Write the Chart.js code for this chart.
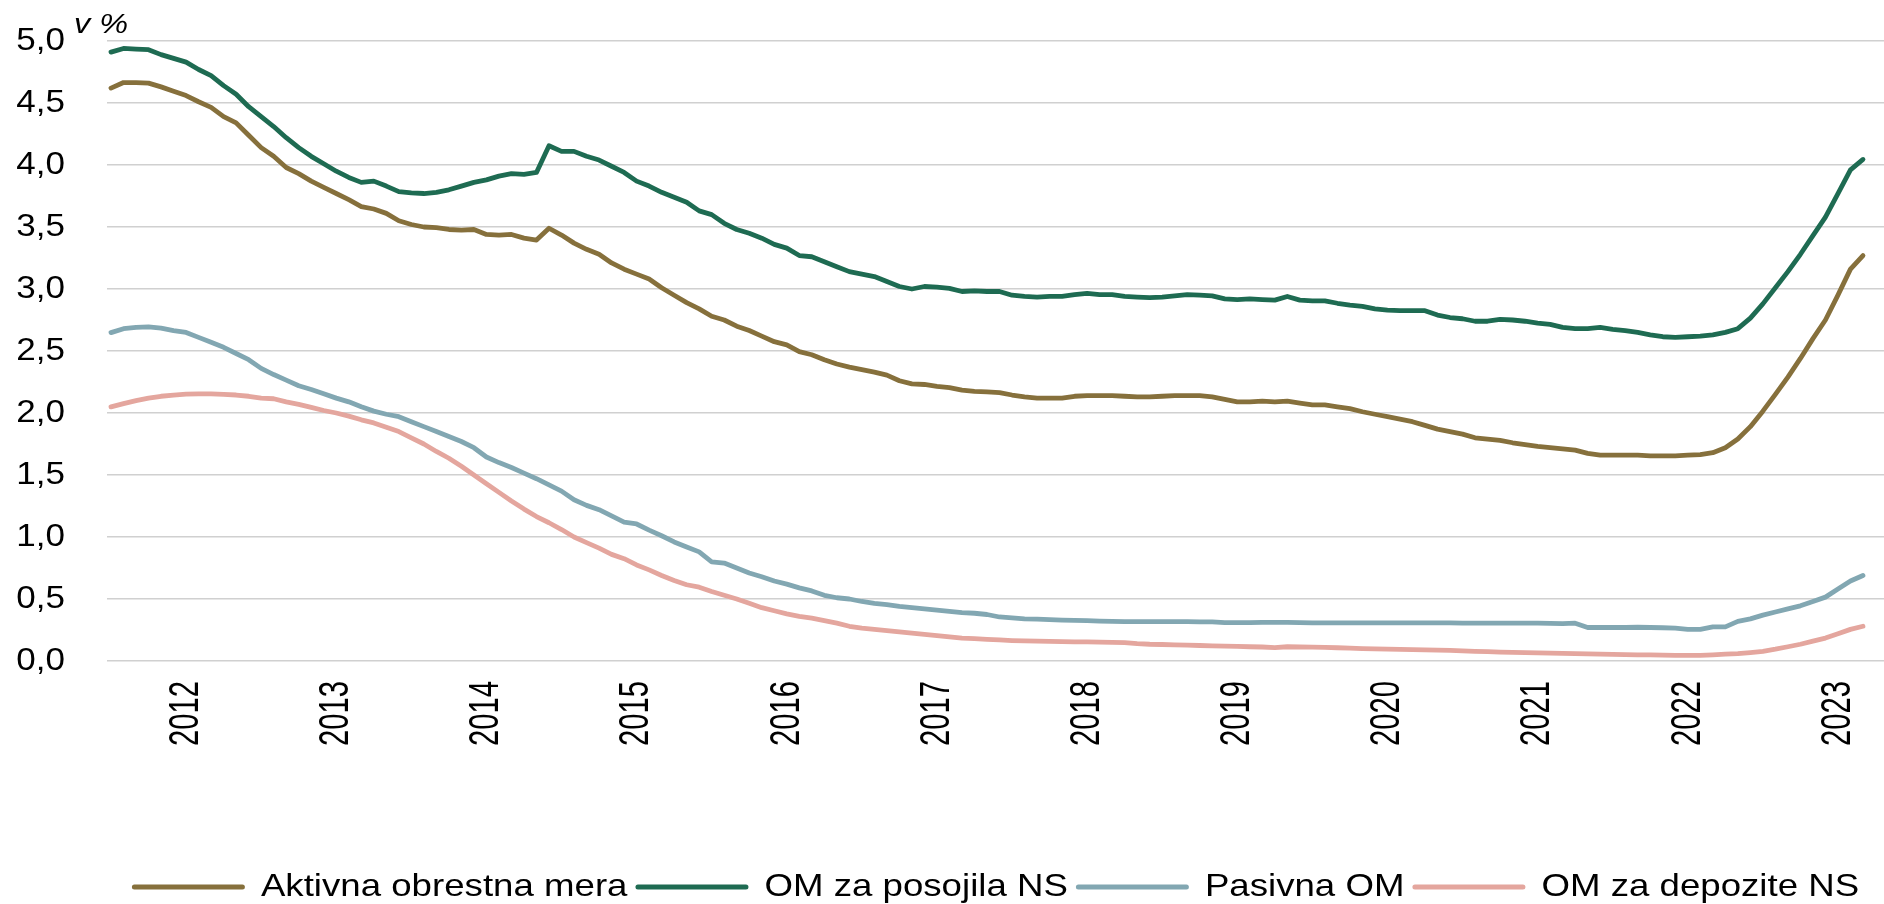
<!DOCTYPE html>
<html>
<head>
<meta charset="utf-8">
<script src="https://cdn.jsdelivr.net/npm/chart.js@4.4.0/dist/chart.umd.min.js"></script>
<style>
  html, body { margin: 0; padding: 0; background: #fff; overflow: hidden; }
  body { width: 1884px; height: 904px; }
  #wrap { position: relative; width: 1884px; height: 913px; }
</style>
</head>
<body>
<div id="wrap"><canvas id="chart"></canvas></div>
<script>
// year tick labels, one per 12 months (placed mid-year)
var years = ["2012", "2013", "2014", "2015", "2016", "2017", "2018", "2019", "2020", "2021", "2022", "2023"]

// monthly rates in %, Jan 2012 - Sep 2023
var aktivna = [
  4.62, 4.665, 4.665, 4.66, 4.63, 4.595, 4.56, 4.51, 4.465, 4.39, 4.34, 4.24,
  4.14, 4.07, 3.98, 3.93, 3.87, 3.82, 3.77, 3.72, 3.665, 3.645, 3.61, 3.55,
  3.52, 3.50, 3.495, 3.48, 3.475, 3.48, 3.44, 3.435, 3.44, 3.41, 3.395, 3.49,
  3.435, 3.37, 3.32, 3.28, 3.21, 3.16, 3.12, 3.08, 3.01, 2.95, 2.89, 2.84,
  2.78, 2.75, 2.70, 2.665, 2.62, 2.575, 2.55, 2.495, 2.47, 2.43, 2.395, 2.37,
  2.35, 2.33, 2.305, 2.26, 2.235, 2.23, 2.215, 2.205, 2.185, 2.175, 2.17, 2.165,
  2.145, 2.13, 2.12, 2.12, 2.12, 2.135, 2.14, 2.14, 2.14, 2.135, 2.13, 2.13,
  2.135, 2.14, 2.14, 2.14, 2.13, 2.11, 2.09, 2.09, 2.095, 2.09, 2.095, 2.08,
  2.065, 2.065, 2.05, 2.035, 2.01, 1.99, 1.97, 1.95, 1.93, 1.90, 1.87, 1.85,
  1.83, 1.80, 1.79, 1.78, 1.76, 1.745, 1.73, 1.72, 1.71, 1.70, 1.675, 1.66,
  1.66, 1.66, 1.66, 1.655, 1.655, 1.655, 1.66, 1.665, 1.68, 1.72, 1.79, 1.89,
  2.015, 2.15, 2.29, 2.44, 2.60, 2.75, 2.95, 3.16, 3.27
]
var posojilaNS = [
  4.91, 4.94, 4.935, 4.93, 4.89, 4.86, 4.83, 4.77, 4.72, 4.64, 4.57, 4.47,
  4.39, 4.31, 4.22, 4.14, 4.07, 4.01, 3.95, 3.90, 3.86, 3.87, 3.83, 3.785,
  3.775, 3.77, 3.78, 3.80, 3.83, 3.86, 3.88, 3.91, 3.93, 3.925, 3.94, 4.155,
  4.11, 4.11, 4.07, 4.04, 3.99, 3.94, 3.87, 3.83, 3.78, 3.74, 3.70, 3.63,
  3.60, 3.53, 3.48, 3.45, 3.41, 3.36, 3.33, 3.27, 3.26, 3.22, 3.18, 3.14,
  3.12, 3.10, 3.06, 3.02, 3.00, 3.02, 3.015, 3.005, 2.98, 2.985, 2.98, 2.98,
  2.95, 2.94, 2.935, 2.94, 2.94, 2.955, 2.965, 2.955, 2.955, 2.94, 2.935, 2.93,
  2.935, 2.945, 2.955, 2.95, 2.945, 2.92, 2.915, 2.92, 2.915, 2.91, 2.94, 2.91,
  2.905, 2.905, 2.885, 2.87, 2.86, 2.84, 2.83, 2.825, 2.825, 2.825, 2.79, 2.77,
  2.76, 2.74, 2.74, 2.755, 2.75, 2.74, 2.725, 2.715, 2.69, 2.68, 2.68, 2.69,
  2.675, 2.665, 2.65, 2.63, 2.615, 2.61, 2.615, 2.62, 2.63, 2.65, 2.68, 2.765,
  2.88, 3.01, 3.14, 3.28, 3.43, 3.58, 3.77, 3.96, 4.045
]
var pasivna = [
  2.648, 2.68, 2.69, 2.695, 2.685, 2.665, 2.65, 2.61, 2.57, 2.53, 2.48, 2.43,
  2.36, 2.31, 2.265, 2.22, 2.19, 2.155, 2.12, 2.09, 2.05, 2.015, 1.99, 1.97,
  1.93, 1.89, 1.85, 1.81, 1.77, 1.72, 1.645, 1.60, 1.56, 1.515, 1.47, 1.42,
  1.37, 1.30, 1.255, 1.22, 1.17, 1.12, 1.105, 1.055, 1.01, 0.96, 0.92, 0.88,
  0.80, 0.79, 0.75, 0.71, 0.68, 0.645, 0.62, 0.59, 0.565, 0.53, 0.51, 0.50,
  0.48, 0.465, 0.455, 0.44, 0.43, 0.42, 0.41, 0.40, 0.39, 0.385, 0.375, 0.355,
  0.348, 0.34, 0.338, 0.333, 0.33, 0.328, 0.325, 0.322, 0.32, 0.318, 0.318, 0.317,
  0.317, 0.317, 0.317, 0.316, 0.315, 0.31, 0.31, 0.31, 0.312, 0.312, 0.312, 0.31,
  0.308, 0.308, 0.308, 0.308, 0.308, 0.308, 0.308, 0.308, 0.308, 0.308, 0.308, 0.308,
  0.305, 0.305, 0.305, 0.305, 0.305, 0.305, 0.305, 0.303, 0.302, 0.305, 0.27, 0.27,
  0.27, 0.27, 0.272, 0.27, 0.268, 0.265, 0.255, 0.255, 0.275, 0.275, 0.32, 0.34,
  0.37, 0.395, 0.42, 0.445, 0.48, 0.515, 0.58, 0.645, 0.69
]
var depozitiNS = [
  2.05, 2.075, 2.10, 2.12, 2.135, 2.145, 2.152, 2.155, 2.155, 2.15, 2.145, 2.135,
  2.12, 2.115, 2.09, 2.07, 2.045, 2.02, 2.00, 1.975, 1.945, 1.92, 1.885, 1.85,
  1.80, 1.75, 1.69, 1.635, 1.57, 1.50, 1.43, 1.36, 1.29, 1.225, 1.165, 1.115,
  1.06, 1.00, 0.955, 0.91, 0.86, 0.825, 0.775, 0.735, 0.69, 0.65, 0.615, 0.595,
  0.56, 0.53, 0.50, 0.465, 0.43, 0.405, 0.38, 0.36, 0.345, 0.325, 0.305, 0.28,
  0.265, 0.255, 0.245, 0.235, 0.225, 0.215, 0.205, 0.195, 0.185, 0.18, 0.175, 0.17,
  0.165, 0.162, 0.16, 0.158, 0.157, 0.155, 0.155, 0.153, 0.15, 0.148, 0.14, 0.135,
  0.133, 0.13, 0.128, 0.125, 0.122, 0.12, 0.118, 0.115, 0.113, 0.108, 0.115, 0.113,
  0.112, 0.11, 0.107, 0.104, 0.10, 0.098, 0.095, 0.093, 0.091, 0.09, 0.088, 0.085,
  0.082, 0.078, 0.075, 0.072, 0.07, 0.068, 0.066, 0.064, 0.062, 0.06, 0.058, 0.056,
  0.054, 0.052, 0.05, 0.05, 0.048, 0.046, 0.045, 0.046, 0.05, 0.055, 0.06, 0.068,
  0.078, 0.095, 0.115, 0.135, 0.16, 0.185, 0.22, 0.255, 0.28
]

var seriesNames = ["Aktivna obrestna mera", "OM za posojila NS", "Pasivna OM", "OM za depozite NS"]
var seriesColors = ["#86703c", "#1e6b52", "#82a7b2", "#e4a69e"]

function toPoints(arr) {
    return arr.map(function(v, i) { return {x: i, y: v} })
}

var fontMain = "'Liberation Sans', Arial, sans-serif"

// the original was exported slightly stretched: widen normal text,
// squeeze the rotated year labels (keyed by font size in px)
var textStretch = {28: 1.16, 31: 1.13, 32: 1.145, 43: 0.68}

var canvas = document.getElementById("chart")
var ctx = canvas.getContext("2d")
var origFill = ctx.fillText.bind(ctx)
var origMeasure = ctx.measureText.bind(ctx)
function stretchFor() {
    var m = /(\d+(?:\.\d+)?)px/.exec(ctx.font)
    return (m && textStretch[m[1]]) || 1
}
ctx.fillText = function(text, x, y) {
    var sx = stretchFor()
    if (sx === 1) return origFill(text, x, y)
    ctx.save()
    ctx.translate(x, y)
    ctx.scale(sx, 1)
    origFill(text, 0, 0)
    ctx.restore()
}
ctx.measureText = function(text) {
    var m = origMeasure(text), sx = stretchFor()
    if (sx === 1) return m
    return {
        width: m.width * sx,
        actualBoundingBoxAscent: m.actualBoundingBoxAscent,
        actualBoundingBoxDescent: m.actualBoundingBoxDescent,
        actualBoundingBoxLeft: m.actualBoundingBoxLeft * sx,
        actualBoundingBoxRight: m.actualBoundingBoxRight * sx
    }
}

// "v %" unit note above the y axis; legend centred on the plot area
var unitLabel = {
    id: "unitLabel",
    afterLayout: function(chart) {
        if (chart.legend) chart.legend.left = chart.chartArea.left
    },
    afterDraw: function(chart) {
        var c = chart.ctx, area = chart.chartArea
        c.save()
        c.font = "italic 28px " + fontMain
        c.fillStyle = "#000"
        c.textAlign = "left"
        c.textBaseline = "alphabetic"
        c.fillText("v %", area.left - 33, area.top - 8)
        c.restore()
    }
}

var datasets = [aktivna, posojilaNS, pasivna, depozitiNS].map(function(arr, k) {
    return {
        label: seriesNames[k],
        data: toPoints(arr),
        borderColor: seriesColors[k],
        backgroundColor: seriesColors[k],
        borderWidth: 4.8,
        pointRadius: 0,
        tension: 0,
        borderCapStyle: "round",
        borderJoinStyle: "round"
    }
})

new Chart(canvas, {
    type: "line",
    data: {datasets: datasets},
    options: {
        responsive: true,
        maintainAspectRatio: false,
        animation: false,
        devicePixelRatio: 1,
        layout: {padding: {left: 0, right: 0, top: 41, bottom: 0}},
        plugins: {
            tooltip: {enabled: false},
            legend: {
                position: "bottom",
                labels: {
                    color: "#000",
                    font: {family: fontMain, size: 32},
                    boxWidth: 113,
                    boxHeight: 5,
                    padding: 8,
                    useBorderRadius: true,
                    borderRadius: 2.5,
                    generateLabels: function(chart) {
                        var items = Chart.defaults.plugins.legend.labels.generateLabels(chart)
                        items.forEach(function(it) {
                            it.lineWidth = 0
                            it.fillStyle = it.strokeStyle
                        })
                        return items
                    }
                }
            }
        },
        scales: {
            x: {
                type: "linear",
                min: -0.32,
                max: 141.68,
                grid: {display: false, drawTicks: false},
                border: {display: false},
                afterBuildTicks: function(scale) {
                    scale.ticks = years.map(function(y, k) { return {value: 6 + 12 * k} })
                },
                afterFit: function(scale) {
                    scale.height = 202
                    scale.paddingLeft = 0
                    scale.paddingRight = 0
                },
                ticks: {
                    autoSkip: false,
                    minRotation: 90,
                    maxRotation: 90,
                    padding: 20,
                    color: "#000",
                    font: {family: fontMain, size: 43},
                    callback: function(value) { return years[Math.round((value - 6) / 12)] }
                }
            },
            y: {
                min: 0,
                max: 5,
                grid: {color: "#d0d0d0", lineWidth: 1.5, drawTicks: false},
                border: {display: false},
                afterFit: function(scale) {
                    scale.width = 107
                    scale.paddingTop = 0
                    scale.paddingBottom = 0
                },
                ticks: {
                    stepSize: 0.5,
                    padding: 42,
                    color: "#000",
                    font: {family: fontMain, size: 31},
                    callback: function(value) { return value.toFixed(1).replace(".", ",") }
                }
            }
        }
    },
    plugins: [unitLabel]
})
</script>
</body>
</html>
